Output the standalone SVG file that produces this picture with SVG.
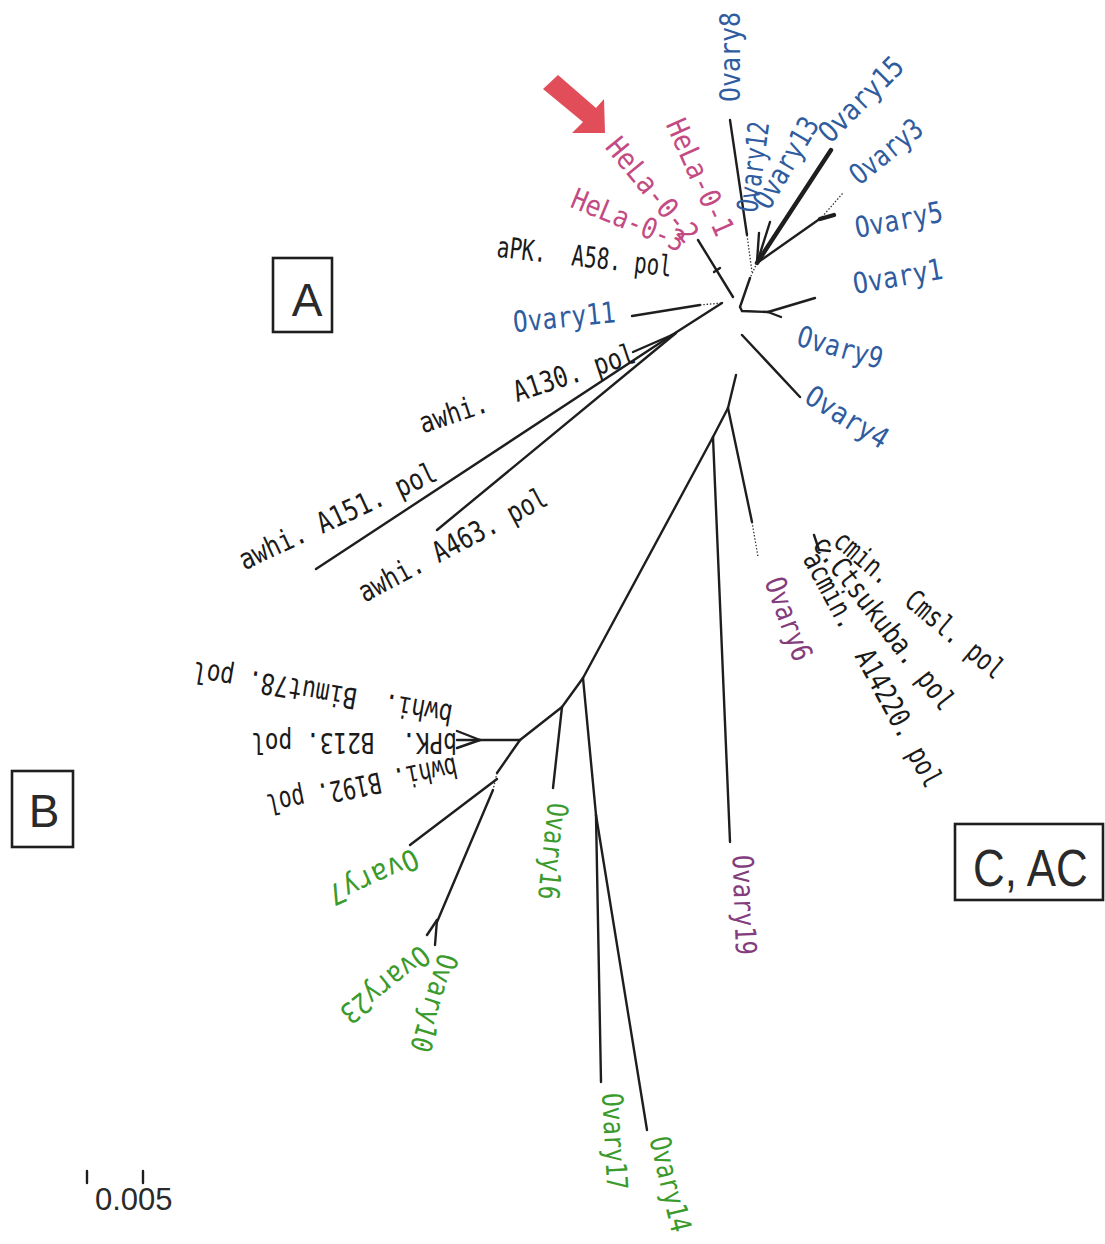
<svg xmlns="http://www.w3.org/2000/svg" width="1105" height="1244" viewBox="0 0 1105 1244">
<style>
.br{stroke:#1e1e1e;stroke-width:2.4;fill:none;stroke-linecap:round}
.th{stroke-width:4.4}
.dt{stroke:#333;stroke-width:1.3;stroke-dasharray:1.5 1.8;fill:none}
.lb{font-family:"DejaVu Sans Mono","Liberation Mono",monospace;font-size:29px;dominant-baseline:central;white-space:pre}
.bl{fill:#2f5c9f}
.pk{fill:#c34a82}
.pu{fill:#843c7c}
.gr{fill:#3a9a2c}
.bk{fill:#1a1a1a}
.box{fill:none;stroke:#1e1e1e;stroke-width:2.6}
.bt{font-family:"Liberation Sans",Arial,sans-serif;fill:#2a2a2a}
</style>
<rect width="1105" height="1244" fill="#ffffff"/>

<g id="connectors">
  <path class="br" d="M730,120 L747,235"/>
  <path class="dt" d="M747,235 L752,272"/>
  <path class="br" d="M759,233 L757,262"/>
  <path class="br" d="M770,222 L757,263"/>
  <path class="br th" d="M831,150 L757,263"/>
  <path class="br" d="M821,218 L757,263"/>
  <path class="dt" d="M822,217 L843,193"/>
  <path class="br th" d="M820,219 L834,215"/>
  <path class="dt" d="M757,263 L750,278"/>
  <path class="br" d="M750,278 L740,307 L742,311 L768,312"/>
  <path class="br" d="M768,312 L815,298"/>
  <path class="br" d="M768,312 L781,317"/>
  <path class="br" d="M698,240 L733,297"/>
  <path class="br" d="M714,272 L720,268"/>
  <path class="br" d="M632,316 L700,305"/>
  <path class="dt" d="M700,305 L722,303"/>
  <path class="br" d="M722,303 L672,335"/>
  <path class="br" d="M672,335 L633,352"/>
  <path class="br" d="M672,335 L316,569"/>
  <path class="br" d="M676,333 L437,530"/>
  <path class="br" d="M742,335 L800,397"/>
  <path class="br" d="M736,375 L728,408"/>
  <path class="br" d="M728,408 L752,522"/>
  <path class="dt" d="M752,522 L758,557"/>
  <path class="br" d="M728,408 L713,437"/>
  <path class="br" d="M713,437 L730,842"/>
  <path class="br" d="M713,437 L583,678"/>
  <path class="br" d="M583,678 L596,815"/>
  <path class="br" d="M596,815 L601,1082"/>
  <path class="br" d="M596,815 L647,1130"/>
  <path class="br" d="M583,678 L562,707"/>
  <path class="br" d="M562,707 L553,788"/>
  <path class="br" d="M562,707 L520,740"/>
  <path class="br" d="M520,740 L457,740"/>
  <path class="br" d="M480,740 L457,731"/>
  <path class="br" d="M480,740 L457,748"/>
  <path class="br" d="M520,740 L497,773"/>
  <path class="dt" d="M497,773 L493,790"/>
  <path class="br" d="M497,779 L410,845"/>
  <path class="br" d="M493,790 L437,922"/>
  <path class="br" d="M437,920 L427,935"/>
  <path class="br" d="M437,920 L435,945"/>
  <path class="br" d="M814,535 L819,550 L830,551"/>
</g>

<g id="arrow">
  <polygon points="543,89 558,75 596,108 604,99 605,133 572,133 583,122" fill="#e24d5a"/>
</g>

<g id="box-A"><rect class="box" x="273" y="258" width="59" height="74"/><text class="bt" x="307" y="316" font-size="46" text-anchor="middle">A</text></g>
<g id="box-B"><rect class="box" x="12" y="771" width="61" height="76"/><text class="bt" x="44" y="827" font-size="46" text-anchor="middle">B</text></g>
<g id="box-CAC"><rect class="box" x="955" y="824" width="148" height="76"/><text class="bt" transform="translate(973,886) scale(0.844,1)" font-size="52">C, AC</text></g>

<g id="scale">
  <path class="br" d="M87,1171 V1183 M143,1171 V1183"/>
  <text class="bt" x="95" y="1210" font-size="31">0.005</text>
</g>

<g id="n-Ovary8"><text class="lb bl" transform="translate(730,102) rotate(-90) scale(0.859,1)">Ovary8</text></g>
<g id="n-Ovary12"><text class="lb bl" transform="translate(747,212) rotate(-82.4) scale(0.745,1)">Ovary12</text></g>
<g id="n-Ovary13"><text class="lb bl" transform="translate(760,206) rotate(-59.6) scale(0.826,1)">Ovary13</text></g>
<g id="n-Ovary15"><text class="lb bl" transform="translate(823,137) rotate(-45) scale(0.876,1)">Ovary15</text></g>
<g id="n-Ovary3"><text class="lb bl" transform="translate(853,178) rotate(-39.3) scale(0.811,1)">Ovary3</text></g>
<g id="n-Ovary5"><text class="lb bl" transform="translate(855,228) rotate(-10.9) scale(0.849,1)">Ovary5</text></g>
<g id="n-Ovary1"><text class="lb bl" transform="translate(853,284) rotate(-9.8) scale(0.868,1)">Ovary1</text></g>
<g id="n-Ovary9"><text class="lb bl" transform="translate(798,335) rotate(16) scale(0.84,1)">Ovary9</text></g>
<g id="n-Ovary4"><text class="lb bl" transform="translate(808,393) rotate(31.6) scale(0.878,1)">Ovary4</text></g>
<g id="n-Ovary11"><text class="lb bl" transform="translate(513,322) rotate(-5.6) scale(0.843,1)">Ovary11</text></g>

<g id="n-HeLa-0-1"><text class="lb pk" transform="translate(675,120) rotate(65.8) scale(0.895,1)">HeLa-0-1</text></g>
<g id="n-HeLa-0-2"><text class="lb pk" transform="translate(612,141) rotate(50.5) scale(0.909,1)">HeLa-0-2</text></g>
<g id="n-HeLa-0-3"><text class="lb pk" transform="translate(573,197) rotate(22.4) scale(0.859,1)">HeLa-0-3</text></g>

<g id="n-aPK-A58"><text class="lb bk" transform="translate(497,247) rotate(6.5) scale(0.72,1)">aPK.  A58. pol</text></g>
<g id="n-awhi-A130"><text class="lb bk" transform="translate(420,424) rotate(-18.4) scale(0.809,1)">awhi.  A130. pol</text></g>
<g id="n-awhi-A151"><text class="lb bk" transform="translate(240,561) rotate(-25) scale(0.821,1)">awhi. A151. pol</text></g>
<g id="n-awhi-A463"><text class="lb bk" transform="translate(360,594) rotate(-28) scale(0.802,1)">awhi. A463. pol</text></g>

<g id="n-bwhi-Bimut78"><text class="lb bk" transform="translate(452,715) rotate(189.6) scale(0.793,1)">bwhi.  Bimut78. pol</text></g>
<g id="n-bPK-B213"><text class="lb bk" transform="translate(457,743) rotate(180) scale(0.787,1)">bPK.  B213. pol</text></g>
<g id="n-bwhi-B192"><text class="lb bk" transform="translate(457,767) rotate(168.7) scale(0.741,1)">bwhi. B192. pol</text></g>

<g id="n-cmin-Cmsl"><text class="lb bk" transform="translate(838,536) rotate(40) scale(0.762,1)">cmin.  Cmsl. pol</text></g>
<g id="n-c-Ctsukuba"><text class="lb bk" transform="translate(819,539) rotate(52.2) scale(0.81,1)">c.Ctsukuba. pol</text></g>
<g id="n-acmin-A14220"><text class="lb bk" transform="translate(811,554) rotate(61.8) scale(0.79,1)">acmin.  A14220. pol</text></g>

<g id="n-Ovary6"><text class="lb pu" transform="translate(774,578) rotate(69.8) scale(0.83,1)">Ovary6</text></g>
<g id="n-Ovary19"><text class="lb pu" transform="translate(743,855) rotate(88) scale(0.818,1)">Ovary19</text></g>

<g id="n-Ovary16"><text class="lb gr" transform="translate(558,803) rotate(96) scale(0.794,1)">Ovary16</text></g>
<g id="n-Ovary17"><text class="lb gr" transform="translate(612,1093) rotate(87) scale(0.794,1)">Ovary17</text></g>
<g id="n-Ovary14"><text class="lb gr" transform="translate(659,1137) rotate(76.5) scale(0.794,1)">Ovary14</text></g>
<g id="n-Ovary10"><text class="lb gr" transform="translate(449,955) rotate(106.8) scale(0.826,1)">Ovary10</text></g>
<g id="n-Ovary23"><text class="lb gr" transform="translate(426,952) rotate(141.3) scale(0.859,1)">Ovary23</text></g>
<g id="n-Ovary7"><text class="lb gr" transform="translate(417,857) rotate(155.6) scale(0.916,1)">Ovary7</text></g>
</svg>
